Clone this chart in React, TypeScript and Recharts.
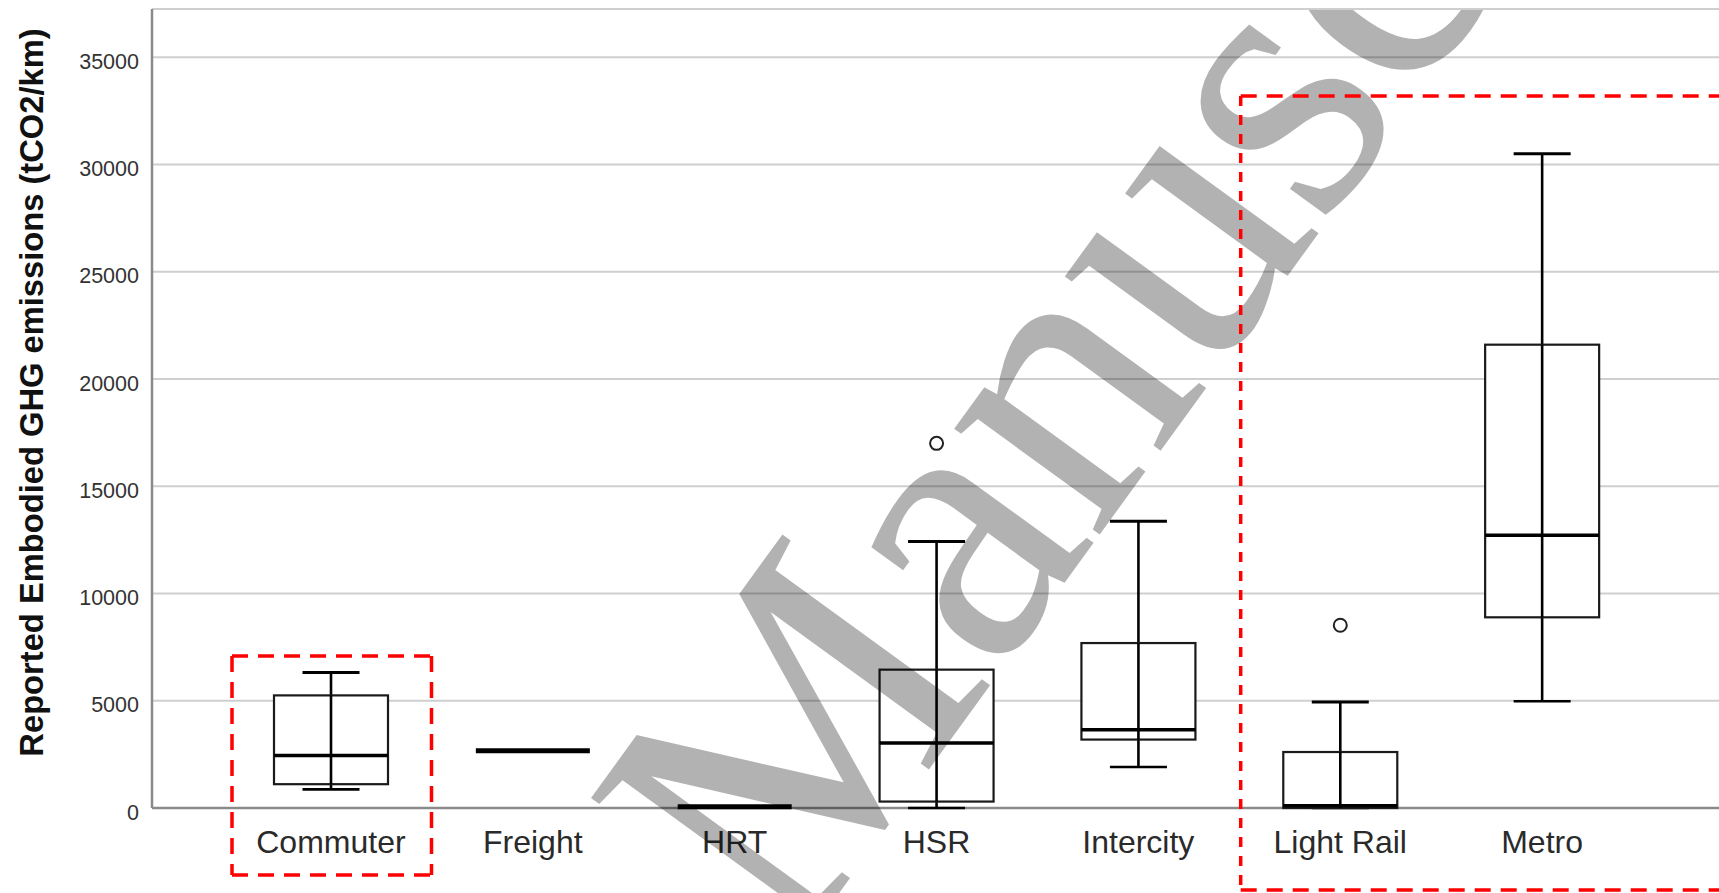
import React from 'react';
import { ComposedChart, Bar, XAxis, YAxis, CartesianGrid } from 'recharts';

// Five-number summaries per transit mode (tCO2/km)
const categories = ['Commuter', 'Freight', 'HRT', 'HSR', 'Intercity', 'Light Rail', 'Metro'];
const whiskerLow = [870, 2670, 60, 0, 1910, 0, 4975];
const quartile1 = [1110, 2670, 60, 300, 3190, 0, 8890];
const medians = [2450, 2670, 60, 3030, 3650, 110, 12710];
const quartile3 = [5250, 2670, 60, 6450, 7690, 2610, 21600];
const whiskerHigh = [6320, 2670, 60, 12420, 13365, 4940, 30500];
const outliers: number[][] = [[], [], [], [17000], [], [8520], []];
const yTicks = [0, 5000, 10000, 15000, 20000, 25000, 30000, 35000];
const yAxisTitle = 'Reported Embodied GHG emissions (tCO2/km)';
const watermark = 'Manuscript';

const data = categories.map((name, i) => ({
  name,
  low: whiskerLow[i],
  q1: quartile1[i],
  median: medians[i],
  q3: quartile3[i],
  high: whiskerHigh[i],
  outliers: outliers[i],
  top: Math.max(whiskerHigh[i], ...outliers[i]),
}));

const SANS = '"Liberation Sans", Arial, Helvetica, sans-serif';
const SERIF = '"Liberation Serif", "Times New Roman", "DejaVu Serif", serif';

// The bar spans 0..top; its pixel geometry gives the linear value->pixel map
const BoxShape = (props: any) => {
  const { x, y, width, height, payload } = props;
  if (payload == null) return null;
  const base = y + height;
  const k = payload.top > 0 ? height / payload.top : 0;
  const py = (v: number) => base - v * k;
  const cx = x + width / 2;
  const cap = width / 4;
  const flat = payload.q3 === payload.q1 && payload.high === payload.low;
  if (flat) {
    return (
      <g>
        <line x1={x} x2={x + width} y1={py(payload.median)} y2={py(payload.median)} stroke="#000" strokeWidth={5} />
      </g>
    );
  }
  return (
    <g>
      <line x1={cx} x2={cx} y1={py(payload.high)} y2={py(payload.q3)} stroke="#000" strokeWidth={2.6} />
      <line x1={cx} x2={cx} y1={py(payload.q1)} y2={py(payload.low)} stroke="#000" strokeWidth={2.6} />
      <line x1={cx - cap} x2={cx + cap} y1={py(payload.high)} y2={py(payload.high)} stroke="#000" strokeWidth={3} />
      <line x1={cx - cap} x2={cx + cap} y1={py(payload.low)} y2={py(payload.low)} stroke="#000" strokeWidth={2.6} />
      <rect
        x={x}
        y={py(payload.q3)}
        width={width}
        height={py(payload.q1) - py(payload.q3)}
        fill="#fff"
        stroke="#1a1a1a"
        strokeWidth={2.2}
      />
      <line x1={cx} x2={cx} y1={py(payload.q3)} y2={py(payload.q1)} stroke="#000" strokeWidth={2.6} />
      <line x1={x} x2={x + width} y1={py(payload.median)} y2={py(payload.median)} stroke="#000" strokeWidth={3.5} />
      {payload.outliers.map((o: number, j: number) => (
        <circle key={j} cx={cx} cy={py(o)} r={6.5} fill="none" stroke="#222" strokeWidth={2} />
      ))}
    </g>
  );
};

const YTick = (props: any) => {
  const { x, y, payload } = props;
  return (
    <text x={x} y={y} dy={11.5} textAnchor="end" style={{ fontFamily: SANS }} fontSize={21.5} fill="#333">
      {payload.value}
    </text>
  );
};

const XTick = (props: any) => {
  const { x, y, payload } = props;
  return (
    <text x={x} y={y + 44.5} textAnchor="middle" style={{ fontFamily: SANS }} fontSize={32} fill="#2a2a2a">
      {payload.value}
    </text>
  );
};

export default function App() {
  return (
    <div style={{ position: 'absolute', left: 0, top: 0, width: 1719, height: 893, overflow: 'hidden', background: '#fff' }}>
      <ComposedChart width={1721} height={893} data={data} margin={{ top: 9, right: 0, bottom: 0, left: 0 }}>
        <CartesianGrid horizontal vertical={false} stroke="#cfcfcf" strokeWidth={2} />
        <XAxis
          dataKey="name"
          type="category"
          interval={0}
          padding={{ left: 78, right: 78 }}
          height={85}
          tickLine={false}
          tickSize={0}
          tickMargin={0}
          axisLine={{ stroke: '#8a8a8a', strokeWidth: 2.5 }}
          tick={<XTick />}
        />
        <YAxis
          type="number"
          domain={[0, 37250]}
          ticks={yTicks}
          interval={0}
          width={152}
          tickLine={false}
          tickSize={0}
          tickMargin={13}
          axisLine={{ stroke: '#8a8a8a', strokeWidth: 2.5 }}
          tick={<YTick />}
        />
        <Bar
          dataKey="top"
          barSize={114}
          shape={<BoxShape />}
          isAnimationActive={false}
          {...({ zIndex: 900 } as any)}
        />
      </ComposedChart>
      <svg
        width={1719}
        height={893}
        style={{ position: 'absolute', left: 0, top: 0, pointerEvents: 'none' }}
      >
        <defs>
          <clipPath id="wm-clip">
            <rect x={0} y={10} width={1719} height={883} />
          </clipPath>
        </defs>
        <text
          x={43}
          y={392.5}
          transform="rotate(-90 43 392.5)"
          textAnchor="middle"
          style={{ fontFamily: SANS, fontWeight: 700 }}
          fontSize={32.7}
          fill="#111"
        >
          {yAxisTitle}
        </text>
        <g clipPath="url(#wm-clip)">
          <text
            x={792}
            y={958}
            transform="rotate(-54 792 958)"
            style={{ fontFamily: SERIF, letterSpacing: -4 }}
            fontSize={392}
            fill="#000"
            fillOpacity={0.3}
          >
            {watermark}
          </text>
        </g>
        <g stroke="#ff0000" strokeWidth={3.5} fill="none">
          <line x1={232} x2={431.5} y1={656} y2={656} strokeDasharray="16 10" />
          <line x1={232} x2={431.5} y1={875} y2={875} strokeDasharray="16 10" />
          <line x1={232} x2={232} y1={656} y2={875} strokeDasharray="16 10" />
          <line x1={431.5} x2={431.5} y1={656} y2={875} strokeDasharray="16 10" />
          <line x1={1240.7} x2={1730} y1={96} y2={96} strokeDasharray="16 10" />
          <line x1={1240.7} x2={1730} y1={890} y2={890} strokeDasharray="16 10" />
          <line x1={1240.7} x2={1240.7} y1={96} y2={890} strokeDasharray="10 9" />
        </g>
      </svg>
    </div>
  );
}
